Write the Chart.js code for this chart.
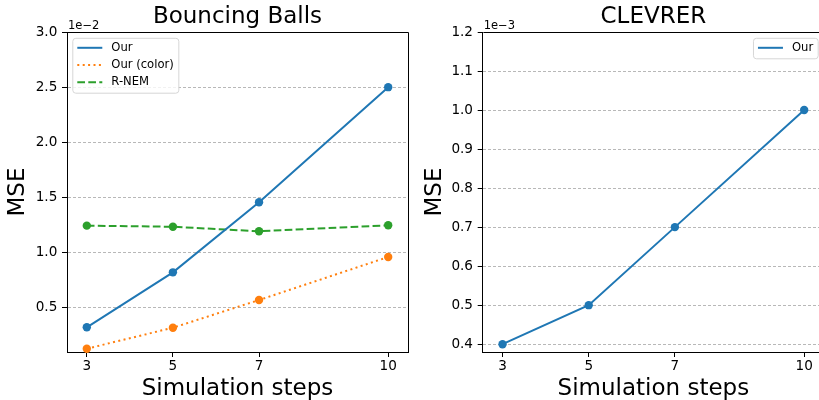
<!DOCTYPE html>
<html>
<head>
<meta charset="utf-8">
<script src="https://cdn.jsdelivr.net/npm/chart.js@4.4.1/dist/chart.umd.min.js"></script>
<style>
  html, body { margin: 0; padding: 0; background: #fff; width: 819px; height: 400px; overflow: hidden; }
  .panel { position: absolute; top: 0; width: 420px; height: 400px; }
  #leftPanel { left: 0; }
  #rightPanel { left: 410px; }
</style>
</head>
<body>
<div class="panel" id="leftPanel"><canvas id="bouncingChart" width="420" height="400"></canvas></div>
<div class="panel" id="rightPanel"><canvas id="clevrerChart" width="420" height="400"></canvas></div>
<script>
// simulation steps on the x axis (same for both plots)
const steps = [3, 5, 7, 10];
const stepTicks = [3, 5, 7, 10];

// Bouncing Balls, MSE in units of 1e-2
const bouncingOur = [0.324, 0.822, 1.457, 2.5];
const bouncingOurColor = [0.13, 0.32, 0.571, 0.961];
const bouncingRnem = [1.245, 1.235, 1.194, 1.248];
const bouncingTicks = [0.5, 1.0, 1.5, 2.0, 2.5, 3.0];

// CLEVRER, MSE in units of 1e-3
const clevrerOur = [0.4, 0.5, 0.7, 1.0];
const clevrerTicks = [0.4, 0.5, 0.6, 0.7, 0.8, 0.9, 1.0, 1.1, 1.2];

const blue = '#1f77b4';
const orange = '#ff7f0e';
const green = '#2ca02c';
const fontFamily = 'DejaVu Sans';

Chart.defaults.font.family = fontFamily;
Chart.defaults.color = '#000';

function toPoints(values) {
  return values.map((v, i) => ({ x: steps[i], y: v }));
}

function lineSet(label, values, color, dash) {
  return {
    label: label,
    data: toPoints(values),
    borderColor: color,
    backgroundColor: color,
    borderWidth: 2,
    borderDash: dash,
    pointRadius: 4.2,
    pointBorderWidth: 0,
    pointBackgroundColor: color,
    tension: 0,
    clip: false,
  };
}

// matplotlib-ish frame, offset text and legend box inside the axes
const axesExtras = {
  id: 'axesExtras',
  afterDatasetsDraw(chart, args, opts) {
    const ctx = chart.ctx;
    const area = chart.chartArea;

    // top and right spines
    ctx.save();
    ctx.strokeStyle = '#000';
    ctx.lineWidth = 1;
    ctx.beginPath();
    ctx.moveTo(Math.round(area.left) + 0.5, Math.round(area.top) + 0.5);
    ctx.lineTo(Math.round(area.right) + 0.5, Math.round(area.top) + 0.5);
    ctx.lineTo(Math.round(area.right) + 0.5, Math.round(area.bottom) + 0.5);
    ctx.stroke();

    // offset text like 1e-2
    ctx.font = '11.5px "' + fontFamily + '"';
    ctx.fillStyle = '#000';
    ctx.textAlign = 'left';
    ctx.textBaseline = 'alphabetic';
    ctx.fillText(opts.offsetText, area.left + 1, area.top - 3);

    // legend
    const sets = chart.data.datasets;
    ctx.font = '11.6px "' + fontFamily + '"';
    const textW = Math.max(...sets.map(d => ctx.measureText(d.label).width));
    const boxW = 38.5 + textW + 5;
    const rowH = 17.2;
    const boxH = 9.5 + (sets.length - 1) * rowH + 11;
    const boxX = opts.legendSide === 'right' ? area.right - 5.8 - boxW : area.left + 5.8;
    const boxY = area.top + 6.3;

    ctx.beginPath();
    ctx.roundRect(boxX, boxY, boxW, boxH, 3);
    ctx.fillStyle = 'rgba(255,255,255,0.8)';
    ctx.fill();
    ctx.strokeStyle = '#d6d6d6';
    ctx.lineWidth = 1;
    ctx.stroke();

    sets.forEach((d, i) => {
      const cy = boxY + 9.5 + i * rowH;
      ctx.beginPath();
      ctx.setLineDash(d.borderDash || []);
      ctx.strokeStyle = d.borderColor;
      ctx.lineWidth = 2;
      ctx.moveTo(boxX + 4.5, cy);
      ctx.lineTo(boxX + 29.5, cy);
      ctx.stroke();
      ctx.setLineDash([]);
      ctx.fillStyle = '#000';
      ctx.textBaseline = 'middle';
      ctx.fillText(d.label, boxX + 38.5, cy);
    });
    ctx.restore();
  }
};

function makeChart(canvasId, cfg) {
  const ctx = document.getElementById(canvasId).getContext('2d');
  return new Chart(ctx, {
    type: 'line',
    data: { datasets: cfg.datasets },
    plugins: [axesExtras],
    options: {
      responsive: false,
      animation: false,
      events: [],
      layout: { padding: { left: 0, right: cfg.padRight, top: 0, bottom: 0 } },
      plugins: {
        legend: { display: false },
        tooltip: { enabled: false },
        title: {
          display: true,
          text: cfg.title,
          fullSize: false,
          color: '#000',
          font: { family: fontFamily, size: 23, weight: 'normal', lineHeight: 1.2 },
          padding: { top: 3, bottom: 1.4 },
        },
        axesExtras: { offsetText: cfg.offsetText, legendSide: cfg.legendSide },
      },
      scales: {
        x: {
          type: 'linear',
          min: 2.54,
          max: 10.46,
          afterBuildTicks: s => { s.ticks = stepTicks.map(v => ({ value: v })); },
          afterFit: s => { s.height = 48; },
          ticks: {
            padding: 1.5,
            font: { size: 13.6 },
            color: '#000',
            callback: v => String(v),
          },
          grid: {
            display: true,
            drawOnChartArea: false,
            drawTicks: true,
            tickLength: 5,
            tickColor: '#000',
            tickWidth: 1,
          },
          border: { display: true, color: '#000', width: 1 },
          title: {
            display: true,
            text: 'Simulation steps',
            color: '#000',
            font: { family: fontFamily, size: 23, lineHeight: 0.95 },
            padding: { top: 0, bottom: 0 },
          },
        },
        y: {
          type: 'linear',
          min: cfg.yMin,
          max: cfg.yMax,
          afterBuildTicks: s => { s.ticks = cfg.yTicks.map(v => ({ value: v })); },
          afterFit: s => { s.width = cfg.yWidth; },
          ticks: {
            padding: 4.7,
            font: { size: 13.6 },
            color: '#000',
            callback: v => v.toFixed(1),
          },
          grid: {
            display: true,
            drawOnChartArea: true,
            drawTicks: true,
            color: '#b8b8b8',
            lineWidth: 1,
            tickLength: 5,
            tickColor: '#000',
            tickWidth: 1,
            tickBorderDash: [],
          },
          border: { display: true, color: '#000', width: 1, dash: [3, 2] },
          title: {
            display: true,
            text: 'MSE',
            color: '#000',
            font: { family: fontFamily, size: 23, lineHeight: 1 },
            padding: { top: cfg.yTitlePad, bottom: 0 },
          },
        },
      },
    },
  });
}

makeChart('bouncingChart', {
  title: 'Bouncing Balls',
  offsetText: '1e\u22122',
  legendSide: 'left',
  padRight: 12,
  yWidth: 67,
  yTitlePad: 7,
  yMin: 0.1,
  yMax: 3.0,
  yTicks: bouncingTicks,
  datasets: [
    lineSet('Our', bouncingOur, blue, []),
    lineSet('Our (color)', bouncingOurColor, orange, [2, 3.4]),
    lineSet('R-NEM', bouncingRnem, green, [7.7, 3.3]),
  ],
});

makeChart('clevrerChart', {
  title: 'CLEVRER',
  offsetText: '1e\u22123',
  legendSide: 'right',
  padRight: 6,
  yWidth: 72.7,
  yTitlePad: 13.2,
  yMin: 0.38,
  yMax: 1.2,
  yTicks: clevrerTicks,
  datasets: [
    lineSet('Our', clevrerOur, blue, []),
  ],
});
</script>
</body>
</html>
